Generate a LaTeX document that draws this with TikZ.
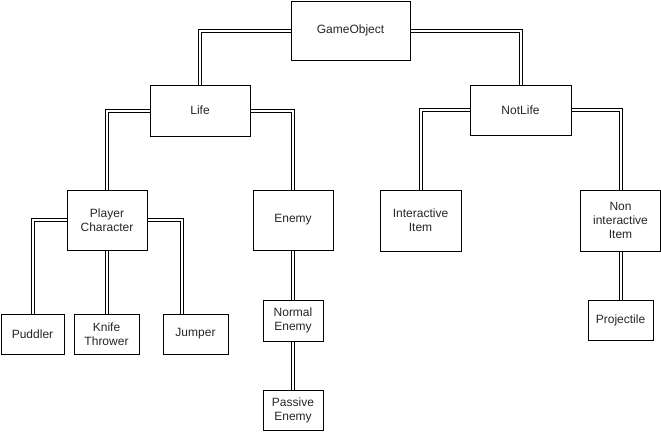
\documentclass[tikz,border=0pt]{standalone}
\usepackage{fontspec}
\setmainfont{Liberation Sans}
\begin{document}
\begin{tikzpicture}[x=1pt,y=-1pt,
  box/.style={draw=black, line width=1pt, fill=white, inner sep=0pt, align=center,
    font=\fontsize{12}{14}\selectfont, text=black!85},
  conn/.style={draw=black, line width=1pt, double=white, double distance=2pt}]
\useasboundingbox[fill=white] (0,0) rectangle (661,431);
\node[box, minimum width=119pt, minimum height=59pt] (go) at (350.5,30.5) {GameObject};
\node[box, minimum width=100pt, minimum height=51pt] (life) at (200,110.5) {Life};
\node[box, minimum width=101pt, minimum height=50pt] (notlife) at (520.5,110) {NotLife};
\node[box, minimum width=80pt, minimum height=60pt] (pc) at (107,220) {Player\\Character};
\node[box, minimum width=80pt, minimum height=60pt] (enemy) at (293,220) {Enemy};
\node[box, minimum width=81pt, minimum height=61pt] (inter) at (420.5,220.5) {Interactive\\Item};
\node[box, minimum width=80pt, minimum height=61pt] (nonint) at (620.5,220.5) {Non\\interactive\\Item};
\node[box, minimum width=63pt, minimum height=40pt] (puddler) at (32.5,334) {Puddler};
\node[box, minimum width=65pt, minimum height=40pt] (knife) at (106.5,334) {Knife\\Thrower};
\node[box, minimum width=65pt, minimum height=40pt] (jumper) at (195.5,334) {Jumper};
\node[box, minimum width=60pt, minimum height=41pt] (normal) at (293,320.5) {Normal\\Enemy};
\node[box, minimum width=60pt, minimum height=40pt] (passive) at (293,410) {Passive\\Enemy};
\node[box, minimum width=65pt, minimum height=40pt] (proj) at (620.5,320) {Projectile};
\coordinate (jtop) at (182,314);
\draw[conn] (go.west) -| (life.north);
\draw[conn] (go.east) -| (notlife.north);
\draw[conn] (life.west) -| (pc.north);
\draw[conn] (life.east) -| (enemy.north);
\draw[conn] (pc.west) -| (puddler.north);
\draw[conn] (pc.south) -- (pc.south |- knife.north);
\draw[conn] (pc.east) -| (jtop);
\draw[conn] (enemy.south) -- (normal.north);
\draw[conn] (normal.south) -- (passive.north);
\draw[conn] (notlife.west) -| (inter.north);
\draw[conn] (notlife.east) -| (nonint.north);
\draw[conn] (nonint.south) -- (proj.north);
\end{tikzpicture}
\end{document}
